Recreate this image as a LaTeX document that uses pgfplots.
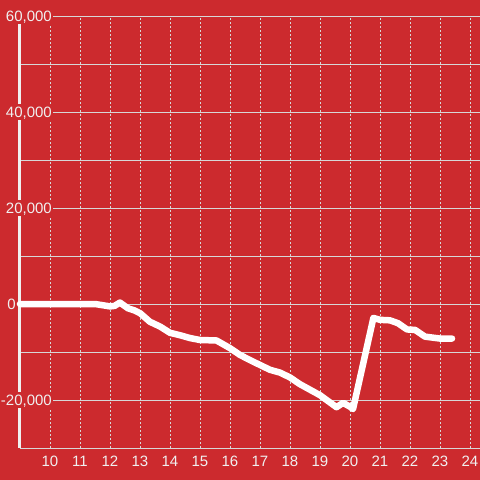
\documentclass[border=0pt]{standalone}
\usepackage{fontspec}
\setmainfont{Liberation Sans}
\usepackage{pgfplots}
\pgfplotsset{compat=1.18}
\definecolor{bg}{RGB}{204,42,46}
\definecolor{fg}{RGB}{240,240,240}
\definecolor{gridc}{RGB}{215,215,215}
\begin{document}
\begin{tikzpicture}
\fill[bg] (0,0) rectangle (480pt,480pt);
\useasboundingbox (0,0) rectangle (480pt,480pt);
\begin{axis}[
 at={(20pt,32pt)}, anchor=south west,
 scale only axis, width=460pt, height=432pt,
 xmin=9, xmax=24.3333, ymin=-30000, ymax=60000,
 scaled y ticks=false, scaled x ticks=false,
 xtick={10,...,24},
 ytick={-20000,20000,40000,60000},
 yticklabels={{-20,000},{20,000},{40,000},{60,000}},
 extra y ticks={0}, extra y tick labels={0},
 minor ytick={-30000,-10000,10000,30000,50000},
 xmajorgrids, ymajorgrids, yminorgrids,
 x grid style={gridc, line width=0.8pt, dash pattern=on 2pt off 2pt},
 y grid style={gridc, line width=0.8pt, solid},
 minor grid style={gridc, line width=0.8pt, solid},
 axis x line*=bottom, axis y line*=left,
 x axis line style={gridc, line width=0.8pt, -},
 y axis line style={fg, line width=3pt, -},
 major tick length=0pt, minor tick length=0pt,
 tick label style={font=\fontsize{15}{18}\selectfont, text=fg},
 xticklabel style={anchor=north, inner sep=0pt, yshift=-7.5pt},
 yticklabel style={anchor=east, inner xsep=1pt, inner ysep=3pt, text depth=0pt, fill=bg, xshift=33pt},
 extra y tick style={grid style={fg, line width=3pt, solid}, yticklabel style={fill=none, xshift=-36pt}},
 /pgf/number format/assume math mode=true,
 clip=false,
]
\addplot[white, line width=6.5pt, line join=round, line cap=round] coordinates {
(9.0,0) (11.5,0) (11.7,-200) (12.0,-500) (12.15,-400) (12.33,300) (12.6,-900)
(12.8,-1300) (13.0,-1900) (13.33,-3700) (13.67,-4700) (14.0,-6000) (14.33,-6500)
(14.67,-7100) (15.0,-7500) (15.55,-7600) (16.0,-9200) (16.33,-10600) (16.67,-11700)
(17.0,-12700) (17.33,-13700) (17.67,-14300) (18.0,-15300) (18.33,-16700) (19.0,-19000)
(19.55,-21500) (19.77,-20600) (20.0,-21400) (20.1,-21900) (20.78,-2900) (21.0,-3300)
(21.33,-3400) (21.6,-4000) (21.9,-5300) (22.17,-5400) (22.5,-6800) (23.0,-7200) (23.4,-7200)
};
\end{axis}
\end{tikzpicture}
\end{document}
